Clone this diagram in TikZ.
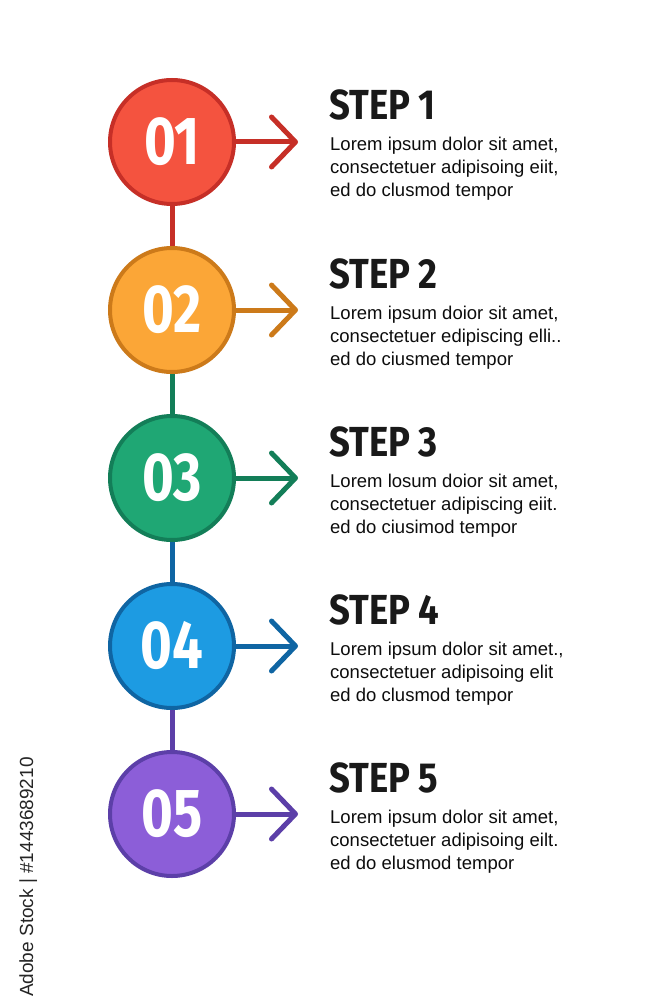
\documentclass[tikz,border=0pt]{standalone}
\usepackage{fontspec}
\setmainfont{Liberation Sans}
\newfontfamily\headfont[FakeStretch=0.87]{Fira Sans}
\newfontfamily\numfont[FakeStretch=0.8]{Fira Sans}
\usetikzlibrary{arrows.meta,positioning,calc}

\definecolor{redfill}{HTML}{F4533F}
\definecolor{redline}{HTML}{C62F27}
\definecolor{orangefill}{HTML}{FBA637}
\definecolor{orangeline}{HTML}{CC7A1A}
\definecolor{greenfill}{HTML}{1FA774}
\definecolor{greenline}{HTML}{137E58}
\definecolor{bluefill}{HTML}{1D9BE2}
\definecolor{blueline}{HTML}{0F65A3}
\definecolor{purplefill}{HTML}{8C5ED8}
\definecolor{purpleline}{HTML}{5C3FA8}

\begin{document}
\begin{tikzpicture}[x=1pt,y=-1pt,node distance=168pt,on grid,
    circ/.style={circle,minimum size=124pt,inner sep=0pt,line width=4pt,
        text=white,font=\numfont\bfseries\fontsize{68}{68}\selectfont},
    link/.style={line width=5pt},
    pointer/.style={line width=5pt,-{Straight Barb[length=24pt,width=50pt,round]}},
    head/.style={anchor=base west,inner sep=0pt,text=black!90,
        font=\headfont\bfseries\fontsize{42}{42}\selectfont},
    body/.style={anchor=base west,align=left,inner sep=0pt,text=black!95,
        font=\fontsize{18.5}{23}\selectfont}]

        \useasboundingbox[fill=white] (0,0) rectangle (667,1000);

        % circles
        \node[circ,fill=redfill,draw=redline] (c_1) at (172,142) {01};
        \node[circ,fill=orangefill,draw=orangeline] (c_2) [below=of c_1] {02};
        \node[circ,fill=greenfill,draw=greenline] (c_3) [below=of c_2] {03};
        \node[circ,fill=bluefill,draw=blueline] (c_4) [below=of c_3] {04};
        \node[circ,fill=purplefill,draw=purpleline] (c_5) [below=of c_4] {05};

        % links between circles
        \draw[link,redline] (c_1) -- (c_2);
        \draw[link,greenline] (c_2) -- (c_3);
        \draw[link,blueline] (c_3) -- (c_4);
        \draw[link,purpleline] (c_4) -- (c_5);

        % arrows
        \coordinate (a_1) at ($(c_1)+(126,0)$);
        \coordinate (a_2) at ($(c_2)+(126,0)$);
        \coordinate (a_3) at ($(c_3)+(126,0)$);
        \coordinate (a_4) at ($(c_4)+(126,0)$);
        \coordinate (a_5) at ($(c_5)+(126,0)$);
        \draw[pointer,redline] (c_1) -- (a_1);
        \draw[pointer,orangeline] (c_2) -- (a_2);
        \draw[pointer,greenline] (c_3) -- (a_3);
        \draw[pointer,blueline] (c_4) -- (a_4);
        \draw[pointer,purpleline] (c_5) -- (a_5);

        % texts (body anchored at the baseline of its last line)
        \node[head] (h_1) at ($(c_1)+(157,-22)$) {STEP 1};
        \node[body] (b_1) at ($(c_1)+(158,55)$) {Lorem ipsum dolor sit amet,\\consectetuer adipisoing eiit,\\ed do clusmod tempor};
        \node[head] (h_2) at ($(c_2)+(157,-22)$) {STEP 2};
        \node[body] (b_2) at ($(c_2)+(158,55)$) {Lorem ipsum doior sit amet,\\consectetuer edipiscing elli..\\ed do ciusmed tempor};
        \node[head] (h_3) at ($(c_3)+(157,-22)$) {STEP 3};
        \node[body] (b_3) at ($(c_3)+(158,55)$) {Lorem losum doior sit amet,\\consectetuer adipiscing eiit.\\ed do ciusimod tempor};
        \node[head] (h_4) at ($(c_4)+(157,-22)$) {STEP 4};
        \node[body] (b_4) at ($(c_4)+(158,55)$) {Lorem ipsum dolor sit amet.,\\consectetuer adipisoing elit\\ed do clusmod tempor};
        \node[head] (h_5) at ($(c_5)+(157,-22)$) {STEP 5};
        \node[body] (b_5) at ($(c_5)+(158,55)$) {Lorem ipsum dolor sit amet,\\consectetuer adipisoing eilt.\\ed do elusmod tempor};

        \node[rotate=90,anchor=base west,inner sep=0pt,text=black!85,
            font=\fontsize{19}{19}\selectfont] (stock) at (33,997) {Adobe Stock | \#1443689210};

\end{tikzpicture}
\end{document}
